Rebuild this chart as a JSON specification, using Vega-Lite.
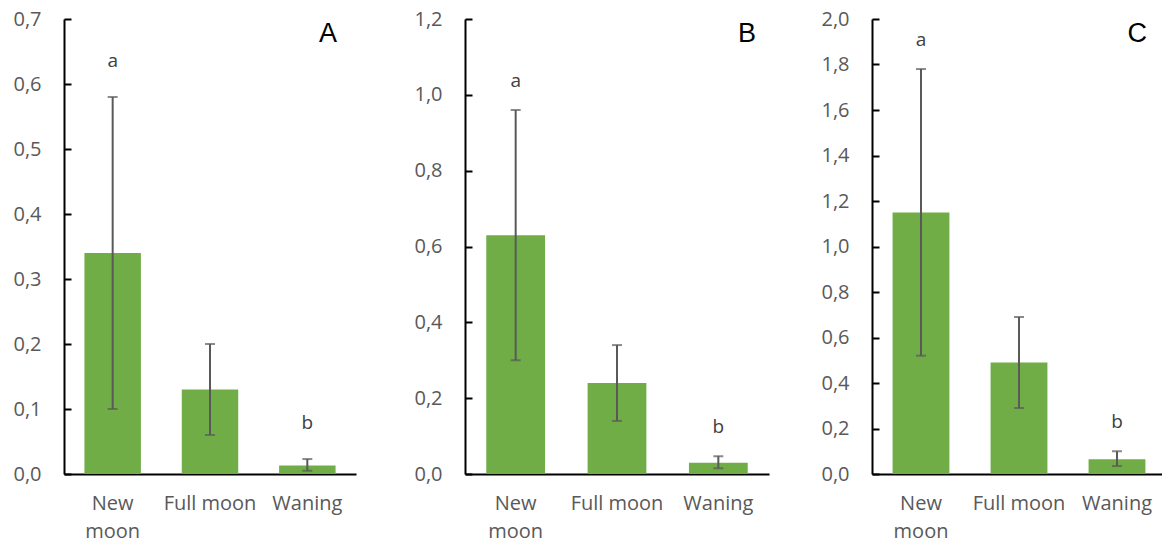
{
  "$schema": "https://vega.github.io/schema/vega-lite/v6.json",
  "padding": {"left": 12, "top": 9, "right": 0, "bottom": 0},
  "background": "white",
  "data": {"values": [
    {"panel": "A", "phase": "New moon", "mean": 0.34, "lo": 0.10, "hi": 0.58, "letter": "a"},
    {"panel": "A", "phase": "Full moon", "mean": 0.13, "lo": 0.06, "hi": 0.20, "letter": ""},
    {"panel": "A", "phase": "Waning", "mean": 0.013, "lo": 0.005, "hi": 0.023, "letter": "b"},
    {"panel": "B", "phase": "New moon", "mean": 0.63, "lo": 0.30, "hi": 0.96, "letter": "a"},
    {"panel": "B", "phase": "Full moon", "mean": 0.24, "lo": 0.14, "hi": 0.34, "letter": ""},
    {"panel": "B", "phase": "Waning", "mean": 0.03, "lo": 0.015, "hi": 0.047, "letter": "b"},
    {"panel": "C", "phase": "New moon", "mean": 1.15, "lo": 0.52, "hi": 1.78, "letter": "a"},
    {"panel": "C", "phase": "Full moon", "mean": 0.49, "lo": 0.29, "hi": 0.69, "letter": ""},
    {"panel": "C", "phase": "Waning", "mean": 0.065, "lo": 0.035, "hi": 0.10, "letter": "b"}
  ]},
  "config": {
    "view": {"stroke": null},
    "font": "Open Sans",
    "axis": {"title": null, "grid": false, "labelFont": "Open Sans", "labelFontSize": 20, "labelColor": "#595959", "domainColor": "#000000"},
    "axisY": {"domainWidth": 2, "labelPadding": 30, "labelExpr": "replace(format(datum.value, '.1f'), '.', ',')"},
    "axisX": {"domainWidth": 2, "ticks": false, "labelAngle": 0, "labelPadding": 19, "labelLineHeight": 28, "labelExpr": "datum.label == 'New moon' ? ['New', 'moon'] : datum.label"},
    "title": {"font": "Liberation Sans", "fontSize": 27, "fontWeight": "normal", "color": "#000000", "anchor": "end", "baseline": "alphabetic"}
  },
  "bounds": "flush",
  "spacing": 109,
  "hconcat": [
    {
      "width": 292, "height": 455,
      "title": {"text": "A", "offset": -39, "dx": -19},
      "transform": [{"filter": "datum.panel == 'A'"}],
      "encoding": {"x": {"field": "phase", "type": "nominal", "sort": null, "scale": {"paddingInner": 0.42, "paddingOuter": 0.21}}},
      "layer": [
        {"mark": {"type": "bar", "color": "#70AD47"},
         "encoding": {"y": {"field": "mean", "type": "quantitative", "title": null, "scale": {"domain": [0, 0.7], "nice": false}, "axis": {"values": [0, 0.1, 0.2, 0.3, 0.4, 0.5, 0.6, 0.7], "ticks": true, "tickSize": -7, "tickWidth": 2, "tickColor": "#000000"}}}},
        {"mark": {"type": "errorbar", "color": "#595959", "thickness": 2, "ticks": {"size": 10}},
         "encoding": {"y": {"field": "lo", "type": "quantitative", "title": null}, "y2": {"field": "hi"}}},
        {"mark": {"type": "text", "dy": -30, "baseline": "alphabetic", "fontSize": 19, "color": "#404040"},
         "encoding": {"y": {"field": "hi", "type": "quantitative", "title": null}, "text": {"field": "letter"}}}
      ]
    },
    {
      "bounds": "flush",
      "spacing": 103,
      "hconcat": [
        {
          "width": 304, "height": 455,
          "title": {"text": "B", "offset": -39, "dx": -13},
          "transform": [{"filter": "datum.panel == 'B'"}],
          "encoding": {"x": {"field": "phase", "type": "nominal", "sort": null, "scale": {"paddingInner": 0.42, "paddingOuter": 0.21}}},
          "layer": [
            {"mark": {"type": "bar", "color": "#70AD47"},
             "encoding": {"y": {"field": "mean", "type": "quantitative", "title": null, "scale": {"domain": [0, 1.2], "nice": false}, "axis": {"values": [0, 0.2, 0.4, 0.6, 0.8, 1.0, 1.2], "ticks": true, "tickSize": -7, "tickWidth": 2, "tickColor": "#000000"}}}},
            {"mark": {"type": "errorbar", "color": "#595959", "thickness": 2, "ticks": {"size": 10}},
             "encoding": {"y": {"field": "lo", "type": "quantitative", "title": null}, "y2": {"field": "hi"}}},
            {"mark": {"type": "text", "dy": -23, "baseline": "alphabetic", "fontSize": 19, "color": "#404040"},
             "encoding": {"y": {"field": "hi", "type": "quantitative", "title": null}, "text": {"field": "letter"}}}
          ]
        },
        {
          "width": 294, "height": 455,
          "title": {"text": "C", "offset": -39, "dx": -19},
          "transform": [{"filter": "datum.panel == 'C'"}],
          "encoding": {"x": {"field": "phase", "type": "nominal", "sort": null, "scale": {"paddingInner": 0.42, "paddingOuter": 0.21}}},
          "layer": [
            {"mark": {"type": "bar", "color": "#70AD47"},
             "encoding": {"y": {"field": "mean", "type": "quantitative", "title": null, "scale": {"domain": [0, 2.0], "nice": false}, "axis": {"values": [0, 0.2, 0.4, 0.6, 0.8, 1.0, 1.2, 1.4, 1.6, 1.8, 2.0], "ticks": true, "tickSize": -7, "tickWidth": 2, "tickColor": "#000000"}}}},
            {"mark": {"type": "errorbar", "color": "#595959", "thickness": 2, "ticks": {"size": 10}},
             "encoding": {"y": {"field": "lo", "type": "quantitative", "title": null}, "y2": {"field": "hi"}}},
            {"mark": {"type": "text", "dy": -23, "baseline": "alphabetic", "fontSize": 19, "color": "#404040"},
             "encoding": {"y": {"field": "hi", "type": "quantitative", "title": null}, "text": {"field": "letter"}}}
          ]
        }
      ]
    }
  ]
}
